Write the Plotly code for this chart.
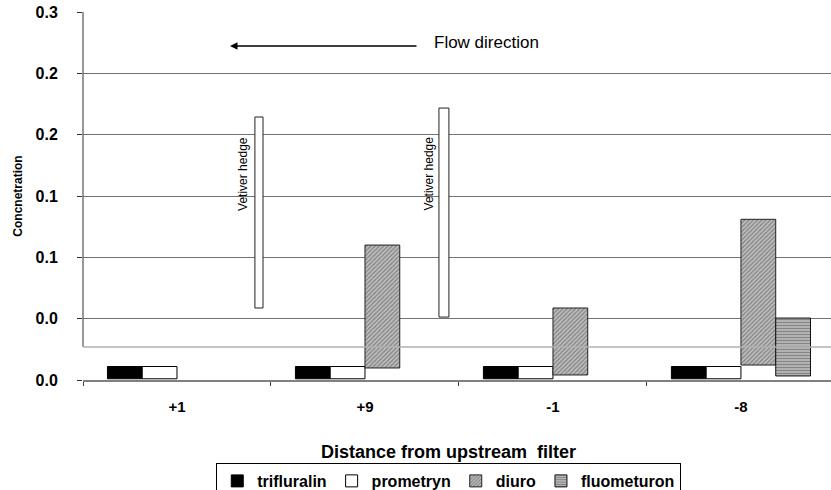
import plotly.graph_objects as go

# ---------------- data ----------------
categories = ["+1", "+9", "-1", "-8"]
cat_pos = [0, 1, 2, 3]

trifluralin_low = [0.001, 0.001, 0.001, 0.001]
trifluralin_high = [0.011, 0.011, 0.011, 0.011]
prometryn_low = [0.001, 0.001, 0.001, 0.001]
prometryn_high = [0.011, 0.011, 0.011, 0.011]
diuro_low = [None, 0.0098, 0.0041, 0.0122]
diuro_high = [None, 0.110, 0.0587, 0.131]
fluometuron_low = [None, None, None, 0.0033]
fluometuron_high = [None, None, None, 0.0505]

# vetiver hedges (drawn markers between positions)
hedge_x = [0.436, 1.42]
hedge_width = [0.043, 0.053]
hedge_low = [0.0587, 0.0513]
hedge_high = [0.2144, 0.2217]

y_tickvals = [0, 0.05, 0.1, 0.15, 0.2, 0.25, 0.3]
y_ticktext = ["0.0", "0.0", "0.1", "0.1", "0.2", "0.2", "0.3"]
floor_level = 0.027

FONT = "Liberation Sans, Arial, sans-serif"


def heights(low, high):
    return [None if (a is None or b is None) else b - a for a, b in zip(low, high)]


fig = go.Figure()

fig.add_trace(go.Bar(
    name="<b>trifluralin</b>", x=cat_pos, y=heights(trifluralin_low, trifluralin_high),
    base=trifluralin_low, marker=dict(color="black", line=dict(color="black", width=1)),
))
fig.add_trace(go.Bar(
    name="<b>prometryn</b>", x=cat_pos, y=heights(prometryn_low, prometryn_high),
    base=prometryn_low, marker=dict(color="white", line=dict(color="black", width=1)),
))
fig.add_trace(go.Bar(
    name="<b>diuro</b>", x=cat_pos, y=heights(diuro_low, diuro_high),
    base=diuro_low,
    marker=dict(color="#a8a8a8", line=dict(color="#222222", width=1),
                pattern=dict(shape="/", fgcolor="#4a4a4a", bgcolor="#c0c0c0",
                             size=3, solidity=0.45)),
))
fig.add_trace(go.Bar(
    name="<b>fluometuron</b>", x=cat_pos, y=heights(fluometuron_low, fluometuron_high),
    base=fluometuron_low,
    marker=dict(color="#888888", line=dict(color="#111111", width=1),
                pattern=dict(shape="-", fgcolor="#4a4a4a", bgcolor="#c0c0c0",
                             size=3, solidity=0.5)),
))
fig.add_trace(go.Bar(
    x=hedge_x, y=heights(hedge_low, hedge_high), base=hedge_low,
    width=hedge_width, offset=[-w / 2 for w in hedge_width],
    marker=dict(color="white", line=dict(color="#222222", width=1)),
    showlegend=False, hoverinfo="skip",
))

fig.update_layout(
    width=831, height=490,
    margin=dict(l=83, r=0, t=12, b=110, autoexpand=False),
    paper_bgcolor="white", plot_bgcolor="white",
    barmode="group", bargap=0.26, bargroupgap=0,
    font=dict(family=FONT, color="black"),
    showlegend=True,
    legend=dict(
        orientation="h", x=0.489, xanchor="center", y=-0.2255, yanchor="top",
        bordercolor="black", borderwidth=1, bgcolor="white",
        font=dict(size=16, family=FONT, color="black"),
        itemwidth=30, tracegroupgap=0,
    ),
    xaxis=dict(
        range=[-0.5, 3.479], tickvals=cat_pos, ticktext=["<b>%s</b>" % c for c in categories],
        ticks="", showgrid=False, zeroline=False, automargin=False,
        showline=True, linecolor="#808080", linewidth=2,
        tickfont=dict(size=15, family=FONT, color="black"),
        ticklabelstandoff=12,
        minor=dict(ticks="outside", tick0=-0.5, dtick=1, ticklen=4, tickcolor="#444444",
                   showgrid=False),
    ),
    yaxis=dict(
        range=[0, 0.3], tickvals=y_tickvals, ticktext=["<b>%s</b>" % t for t in y_ticktext],
        ticks="outside", ticklen=5, tickcolor="#333333",
        showgrid=True, gridcolor="#737373", gridwidth=1,
        zeroline=False, showline=False, automargin=False,
        tickfont=dict(size=16, family=FONT, color="black"),
        ticklabelstandoff=16,
        title=dict(text="<b>Concnetration</b>", font=dict(size=12, family=FONT), standoff=10),
    ),
    shapes=[
        dict(type="line", xref="paper", yref="y", x0=0, x1=0, y0=floor_level, y1=0.3,
             line=dict(color="#333333", width=1)),
        dict(type="line", xref="paper", yref="y", x0=0, x1=1, y0=floor_level, y1=floor_level,
             line=dict(color="#b0b0b0", width=1.5)),
    ],
    annotations=[
        dict(text="<b>Distance from upstream  filter</b>", xref="paper", yref="paper",
             x=0.489, y=-0.196, xanchor="center", yanchor="middle", showarrow=False,
             font=dict(size=18, family=FONT)),
        dict(text="Flow direction", xref="paper", yref="paper", x=0.4666, y=0.9158,
             xanchor="left", yanchor="middle", showarrow=False, font=dict(size=17, family=FONT)),
        dict(text="", xref="paper", yref="paper", x=0.1965, y=0.9076, ax=188, ay=0,
             showarrow=True, arrowhead=2, arrowsize=1, arrowwidth=1.5, arrowcolor="black"),
        dict(text="Vetiver hedge", xref="x", yref="y", x=0.351, y=0.168, textangle=-90,
             showarrow=False, font=dict(size=12, family=FONT)),
        dict(text="Vetiver hedge", xref="x", yref="y", x=1.338, y=0.168, textangle=-90,
             showarrow=False, font=dict(size=12, family=FONT)),
    ],
)

fig.write_html("out.html", config={"displayModeBar": False},
               post_script="document.body.style.margin='0';document.body.style.overflow='hidden';")
